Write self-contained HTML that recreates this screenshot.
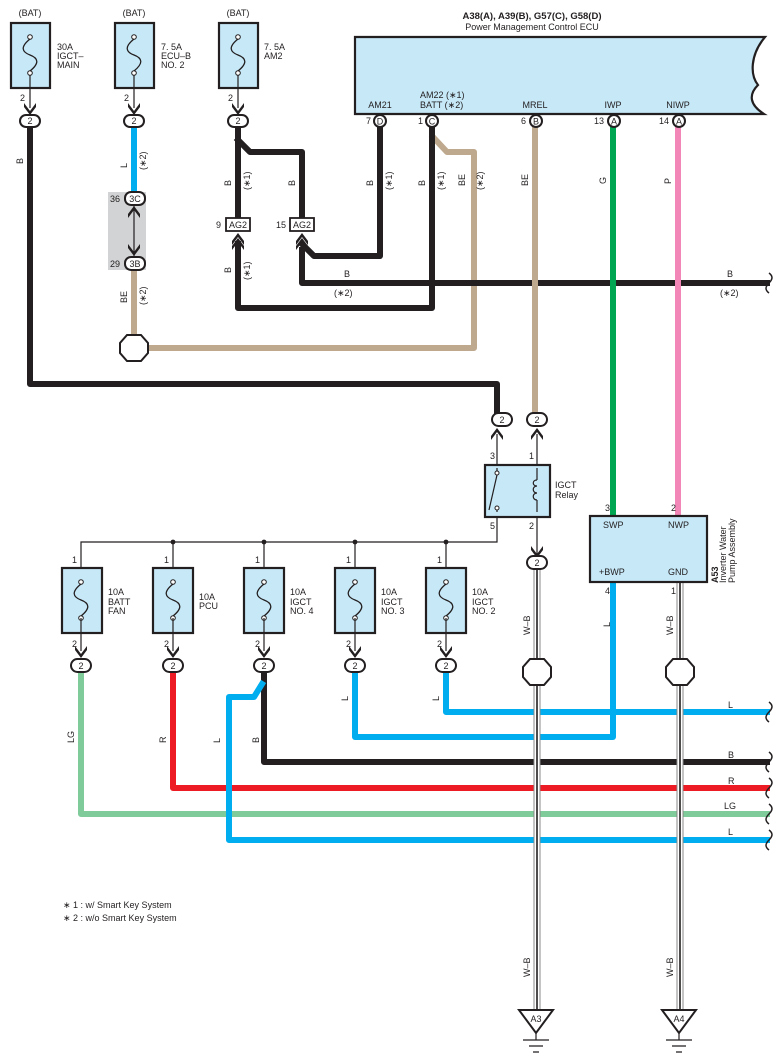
<!DOCTYPE html>
<html><head><meta charset="utf-8"><style>
html,body{margin:0;padding:0;background:#fff}
svg{display:block}
text{font-family:"Liberation Sans",sans-serif;font-size:9px;fill:#231f20}
.b{fill:#c6e8f7;stroke:#231f20;stroke-width:2.2}
.w{fill:none;stroke-width:6;stroke-linejoin:round;stroke-linecap:square}
.t{fill:none;stroke:#231f20;stroke-width:1.2}
.c{fill:#fff;stroke:#231f20;stroke-width:2}
.k{stroke:#231f20}.L{stroke:#00aeef}.R{stroke:#ed1c24}.G{stroke:#00a651}.P{stroke:#f287b7}.BE{stroke:#bfa98e}.LG{stroke:#7fcc9a}
</style></head><body>
<svg width="782" height="1063" viewBox="0 0 782 1063" xmlns="http://www.w3.org/2000/svg">
<defs>
<g id="fz"><circle cx="0" cy="-18" r="2.3" fill="#fff" stroke="#231f20" stroke-width="1"/><circle cx="0" cy="18" r="2.3" fill="#fff" stroke="#231f20" stroke-width="1"/><path d="M0,-16 C-10,-8 -8,-3 0,0 C8,3 10,8 0,16" fill="none" stroke="#231f20" stroke-width="1.3"/></g>
<path id="ad" d="M-6,-7 L0,1 L6,-7 L6,-3 L0,5 L-6,-3 Z" fill="#231f20"/>
<path id="au" d="M-6,7 L0,-1 L6,7 L6,3 L0,-5 L-6,3 Z" fill="#231f20"/>
<polygon id="oc" points="-7,-13 7,-13 14,-5 14,5 7,13 -7,13 -14,5 -14,-5" fill="#fff" stroke="#231f20" stroke-width="2"/>
<path id="wv" d="M0,-10 c4,3 4,6 0,10 c-4,4 -4,7 0,10" fill="none" stroke="#231f20" stroke-width="1.5"/>
</defs>

<!-- ECU -->
<text x="532" y="19" text-anchor="middle" font-weight="bold" style="font-size:9.5px">A38(A), A39(B), G57(C), G58(D)</text>
<text x="532" y="30" text-anchor="middle">Power Management Control ECU</text>
<path class="b" d="M355,37 H765 C750,55 750,75 758,85 C748,95 750,105 764,114 H355 Z"/>
<text x="380" y="108" text-anchor="middle">AM21</text>
<text x="420" y="98">AM22 (∗1)</text><text x="420" y="108">BATT  (∗2)</text>
<text x="535" y="108" text-anchor="middle">MREL</text>
<text x="613" y="108" text-anchor="middle">IWP</text>
<text x="678" y="108" text-anchor="middle">NIWP</text>

<!-- wires (under connectors) -->
<path class="w k" d="M30,127 V384 H497 V412"/>
<path class="w L" d="M134,127 V192"/>
<path class="w BE" d="M134,270 V334"/>
<path class="w BE" d="M433,137 L447,152 H474 V348 H148"/>
<path class="w k" d="M238,127 V218"/>
<path class="w k" d="M238,140 L250,152 H302 V218"/>
<path class="w k" d="M238,244 V308 H432 V127"/>
<path class="w k" d="M302,244 L314,256 H380 V127"/>
<path class="w k" d="M302,250 V283 H767"/>
<path class="w BE" d="M535,127 V412"/>
<path class="w G" d="M613,127 V515"/>
<path class="w P" d="M678,127 V515"/>
<!-- lower wires -->
<path class="w L" d="M446,671 V712 H767"/>
<path class="w L" d="M355,671 V737 H613 V583"/>
<path class="w k" d="M264,671 V762 H767"/>
<path class="w R" d="M173,671 V788 H767"/>
<path class="w LG" d="M81,671 V814 H767"/>
<path class="w L" d="M262,684 L254,697 H229 V840 H767"/>
<!-- W-B wires -->
<g>
<path d="M537,570 V1012 M680,583 V1012" stroke="#888" stroke-width="7" fill="none"/>
<path d="M537,570 V1012 M680,583 V1012" stroke="#fff" stroke-width="5" fill="none"/>
<path d="M537,570 V1012 M680,583 V1012" stroke="#231f20" stroke-width="1.6" fill="none"/>
</g>

<!-- top fuses -->
<g>
<text x="30" y="16" text-anchor="middle">(BAT)</text><text x="134" y="16" text-anchor="middle">(BAT)</text><text x="238" y="16" text-anchor="middle">(BAT)</text>
<rect class="b" x="11" y="23" width="39" height="65"/><rect class="b" x="115" y="23" width="39" height="65"/><rect class="b" x="219" y="23" width="39" height="65"/>
<use href="#fz" x="30" y="55"/><use href="#fz" x="134" y="55"/><use href="#fz" x="238" y="55"/>
<path class="t" d="M30,75 V108 M134,75 V108 M238,75 V108"/>
<use href="#ad" x="30" y="110"/><use href="#ad" x="134" y="110"/><use href="#ad" x="238" y="110"/>
<text x="20" y="101">2</text><text x="124" y="101">2</text><text x="228" y="101">2</text>
<text x="57" y="50">30A</text><text x="57" y="59">IGCT–</text><text x="57" y="68">MAIN</text>
<text x="161" y="50">7. 5A</text><text x="161" y="59">ECU–B</text><text x="161" y="68">NO. 2</text>
<text x="264" y="50">7. 5A</text><text x="264" y="59">AM2</text>
<rect class="c" x="20" y="115" width="20" height="12" rx="6"/><text x="30" y="124" text-anchor="middle">2</text>
<rect class="c" x="124" y="115" width="20" height="12" rx="6"/><text x="134" y="124" text-anchor="middle">2</text>
<rect class="c" x="228" y="115" width="20" height="12" rx="6"/><text x="238" y="124" text-anchor="middle">2</text>
</g>

<!-- gray junction box -->
<rect x="108" y="192" width="38" height="78" fill="#d1d3d4"/>
<path class="t" d="M134,205 V257" stroke-width="1.5"/>
<use href="#au" x="134" y="211"/><use href="#ad" x="134" y="251"/>
<rect class="c" x="125" y="192" width="20" height="13" rx="6"/><text x="135" y="202" text-anchor="middle">3C</text>
<rect class="c" x="125" y="257" width="20" height="13" rx="6"/><text x="135" y="267" text-anchor="middle">3B</text>
<text x="110" y="202">36</text><text x="110" y="267">29</text>
<use href="#oc" x="134" y="348"/>

<!-- AG2 -->
<rect x="226" y="218" width="24" height="13" fill="#fff" stroke="#231f20" stroke-width="1.8"/><text x="238" y="228" text-anchor="middle">AG2</text>
<rect x="290" y="218" width="24" height="13" fill="#fff" stroke="#231f20" stroke-width="1.8"/><text x="302" y="228" text-anchor="middle">AG2</text>
<text x="216" y="228">9</text><text x="276" y="228">15</text>
<use href="#au" x="238" y="238"/><use href="#au" x="238" y="243"/>
<use href="#au" x="302" y="238"/><use href="#au" x="302" y="243"/>

<!-- ECU pins -->
<g>
<circle class="c" cx="380" cy="121" r="6"/><text x="380" y="124.5" text-anchor="middle">D</text><text x="366" y="124">7</text>
<circle class="c" cx="432" cy="121" r="6"/><text x="432" y="124.5" text-anchor="middle">C</text><text x="418" y="124">1</text>
<circle class="c" cx="536" cy="121" r="6"/><text x="536" y="124.5" text-anchor="middle">B</text><text x="521" y="124">6</text>
<circle class="c" cx="614" cy="121" r="6"/><text x="614" y="124.5" text-anchor="middle">A</text><text x="594" y="124">13</text>
<circle class="c" cx="679" cy="121" r="6"/><text x="679" y="124.5" text-anchor="middle">A</text><text x="659" y="124">14</text>
</g>

<!-- rotated wire labels -->
<g>
<text transform="translate(23,164) rotate(-90)">B</text>
<text transform="translate(127,168) rotate(-90)">L</text><text transform="translate(146,170) rotate(-90)">(∗2)</text>
<text transform="translate(127,303) rotate(-90)">BE</text><text transform="translate(146,305) rotate(-90)">(∗2)</text>
<text transform="translate(231,186) rotate(-90)">B</text><text transform="translate(250,190) rotate(-90)">(∗1)</text>
<text transform="translate(295,186) rotate(-90)">B</text>
<text transform="translate(231,273) rotate(-90)">B</text><text transform="translate(250,280) rotate(-90)">(∗1)</text>
<text transform="translate(373,186) rotate(-90)">B</text><text transform="translate(392,190) rotate(-90)">(∗1)</text>
<text transform="translate(425,186) rotate(-90)">B</text><text transform="translate(444,190) rotate(-90)">(∗1)</text>
<text transform="translate(465,186) rotate(-90)">BE</text><text transform="translate(483,190) rotate(-90)">(∗2)</text>
<text transform="translate(528,186) rotate(-90)">BE</text>
<text transform="translate(606,184) rotate(-90)">G</text>
<text transform="translate(671,184) rotate(-90)">P</text>
<text x="344" y="277">B</text><text x="334" y="296">(∗2)</text>
<text x="727" y="277">B</text><text x="720" y="296">(∗2)</text>
<text transform="translate(530,635) rotate(-90)">W–B</text>
<text transform="translate(673,635) rotate(-90)">W–B</text>
<text transform="translate(610,627) rotate(-90)">L</text>
<text transform="translate(74,743) rotate(-90)">LG</text>
<text transform="translate(166,743) rotate(-90)">R</text>
<text transform="translate(220,743) rotate(-90)">L</text>
<text transform="translate(259,743) rotate(-90)">B</text>
<text transform="translate(348,701) rotate(-90)">L</text>
<text transform="translate(439,701) rotate(-90)">L</text>
<text x="728" y="708">L</text><text x="728" y="758">B</text><text x="728" y="784">R</text><text x="724" y="809">LG</text><text x="728" y="835">L</text>
<text transform="translate(530,977) rotate(-90)">W–B</text>
<text transform="translate(673,977) rotate(-90)">W–B</text>
</g>

<!-- relay -->
<rect class="c" x="497-" y="0" width="0" height="0"/>
<rect class="c" x="492" y="413" width="20" height="13" rx="6.5"/><text x="502" y="423" text-anchor="middle">2</text>
<rect class="c" x="527" y="413" width="20" height="13" rx="6.5"/><text x="537" y="423" text-anchor="middle">2</text>
<use href="#au" x="497" y="433"/><use href="#au" x="537" y="433"/>
<path class="t" d="M497,434 V472 M537,434 V480 M537,500 V555 M497,508 V542 H81 V596"/>
<text x="490" y="459">3</text><text x="529" y="459">1</text><text x="490" y="529">5</text><text x="529" y="529">2</text>
<rect class="b" x="485" y="465" width="65" height="52"/>
<path class="t" d="M497,468 V472 M497,508 V512 M537,468 V480 M537,500 V512"/>
<circle cx="497" cy="473" r="2" fill="#fff" stroke="#231f20"/><circle cx="497" cy="508" r="2" fill="#fff" stroke="#231f20"/>
<path class="t" d="M497,475 L489,510"/>
<path class="t" d="M537,480 c-5,0 -5,6 0,6 c-5,0 -5,7 0,7 c-5,0 -5,7 0,7"/>
<text x="555" y="488">IGCT</text><text x="555" y="498">Relay</text>
<use href="#ad" x="537" y="553"/>
<rect class="c" x="527" y="556" width="20" height="13" rx="6.5"/><text x="537" y="566" text-anchor="middle">2</text>
<use href="#oc" x="537" y="672"/><use href="#oc" x="680" y="672"/>

<!-- A53 -->
<rect class="b" x="590" y="516" width="117" height="66"/>
<text x="603" y="528">SWP</text><text x="668" y="528">NWP</text><text x="599" y="575">+BWP</text><text x="668" y="575">GND</text>
<text x="605" y="511">3</text><text x="671" y="511">2</text><text x="605" y="594">4</text><text x="671" y="594">1</text>
<text transform="translate(718,583) rotate(-90)" font-weight="bold">A53</text>
<text transform="translate(726,583) rotate(-90)">Inverter Water</text>
<text transform="translate(735,583) rotate(-90)">Pump Assembly</text>

<!-- bottom fuses -->
<g>
<path class="t" d="M173,542 V596 M264,542 V596 M355,542 V596 M446,542 V596"/>
<circle cx="173" cy="542" r="2.4" fill="#231f20"/><circle cx="264" cy="542" r="2.4" fill="#231f20"/><circle cx="355" cy="542" r="2.4" fill="#231f20"/><circle cx="446" cy="542" r="2.4" fill="#231f20"/>
<rect class="b" x="62" y="568" width="40" height="65"/><rect class="b" x="153" y="568" width="40" height="65"/><rect class="b" x="244" y="568" width="40" height="65"/><rect class="b" x="335" y="568" width="40" height="65"/><rect class="b" x="426" y="568" width="40" height="65"/>
<use href="#fz" x="81" y="600"/><use href="#fz" x="173" y="600"/><use href="#fz" x="264" y="600"/><use href="#fz" x="355" y="600"/><use href="#fz" x="446" y="600"/>
<path class="t" d="M81,618 V651 M173,618 V651 M264,618 V651 M355,618 V651 M446,618 V651"/>
<use href="#ad" x="81" y="653"/><use href="#ad" x="173" y="653"/><use href="#ad" x="264" y="653"/><use href="#ad" x="355" y="653"/><use href="#ad" x="446" y="653"/>
<text x="72" y="563">1</text><text x="164" y="563">1</text><text x="255" y="563">1</text><text x="346" y="563">1</text><text x="437" y="563">1</text>
<text x="72" y="647">2</text><text x="164" y="647">2</text><text x="255" y="647">2</text><text x="346" y="647">2</text><text x="437" y="647">2</text>
<text x="108" y="595">10A</text><text x="108" y="605">BATT</text><text x="108" y="614">FAN</text>
<text x="199" y="600">10A</text><text x="199" y="609">PCU</text>
<text x="290" y="595">10A</text><text x="290" y="605">IGCT</text><text x="290" y="614">NO. 4</text>
<text x="381" y="595">10A</text><text x="381" y="605">IGCT</text><text x="381" y="614">NO. 3</text>
<text x="472" y="595">10A</text><text x="472" y="605">IGCT</text><text x="472" y="614">NO. 2</text>
<rect class="c" x="71" y="659" width="20" height="13" rx="6.5"/><text x="81" y="669" text-anchor="middle">2</text>
<rect class="c" x="163" y="659" width="20" height="13" rx="6.5"/><text x="173" y="669" text-anchor="middle">2</text>
<rect class="c" x="254" y="659" width="20" height="13" rx="6.5"/><text x="264" y="669" text-anchor="middle">2</text>
<rect class="c" x="345" y="659" width="20" height="13" rx="6.5"/><text x="355" y="669" text-anchor="middle">2</text>
<rect class="c" x="436" y="659" width="20" height="13" rx="6.5"/><text x="446" y="669" text-anchor="middle">2</text>
</g>

<!-- wavy ends -->
<use href="#wv" x="769" y="283"/><use href="#wv" x="769" y="712"/><use href="#wv" x="769" y="762"/><use href="#wv" x="769" y="788"/><use href="#wv" x="769" y="814"/><use href="#wv" x="769" y="840"/>

<!-- footnotes -->
<text x="63" y="908">∗ 1 : w/ Smart Key System</text>
<text x="63" y="921">∗ 2 : w/o Smart Key System</text>

<!-- grounds -->
<g fill="#fff" stroke="#231f20" stroke-width="2">
<polygon points="519,1010 553,1010 536,1033"/><polygon points="662,1010 696,1010 679,1033"/>
</g>
<text x="536" y="1022" text-anchor="middle">A3</text><text x="679" y="1022" text-anchor="middle">A4</text>
<path class="t" d="M536,1033 V1040 M523,1040 H549 M529,1046 H543 M533,1052 H539 M679,1033 V1040 M666,1040 H692 M672,1046 H686 M676,1052 H682"/>
</svg>
</body></html>
